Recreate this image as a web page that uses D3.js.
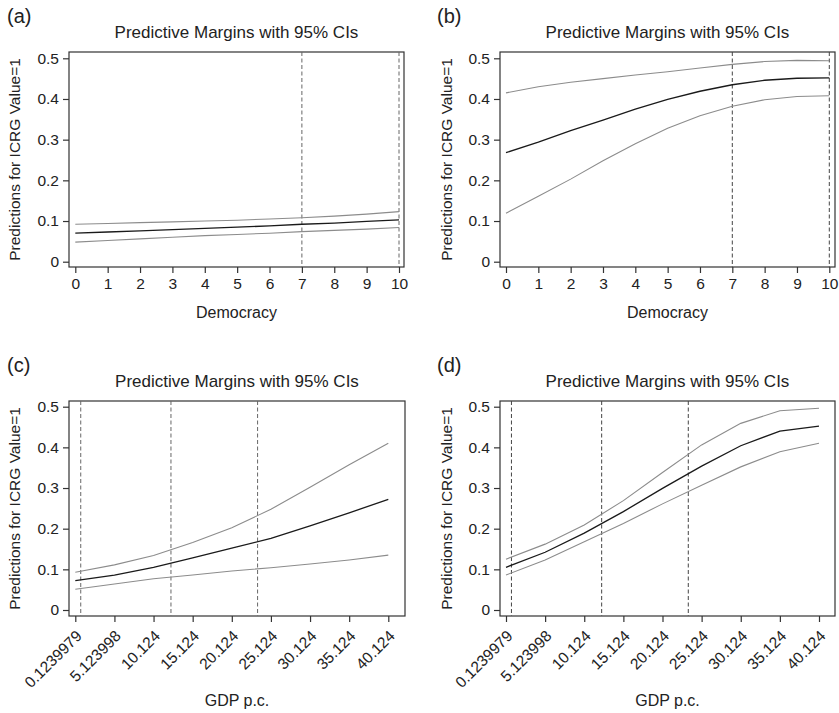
<!DOCTYPE html>
<html lang="en">
<meta charset="utf-8">
<head>
<script src="https://d3js.org/d3.v7.min.js"></script>
<style>
  body { margin: 0; background: #fff; }
  svg text { font-family: "Liberation Sans", Arial, Helvetica, sans-serif; fill: #222; }
</style>
</head>
<body>
<svg id="chart" width="839" height="713"></svg>
<script>
// Democracy panels (a, b)
var demX = [0, 1, 2, 3, 4, 5, 6, 7, 8, 9, 10];
var demTicks = ["0", "1", "2", "3", "4", "5", "6", "7", "8", "9", "10"];
var demRefLines = [7, 10];

var aMean  = [0.070, 0.073, 0.076, 0.079, 0.082, 0.085, 0.088, 0.092, 0.095, 0.099, 0.103];
var aUpper = [0.092, 0.094, 0.096, 0.098, 0.100, 0.102, 0.105, 0.108, 0.112, 0.117, 0.123];
var aLower = [0.048, 0.052, 0.056, 0.060, 0.064, 0.067, 0.070, 0.074, 0.077, 0.080, 0.084];

var bMean  = [0.268, 0.294, 0.322, 0.348, 0.375, 0.399, 0.419, 0.435, 0.446, 0.451, 0.452];
var bUpper = [0.415, 0.430, 0.441, 0.450, 0.459, 0.467, 0.476, 0.485, 0.492, 0.495, 0.494];
var bLower = [0.119, 0.161, 0.203, 0.248, 0.290, 0.328, 0.359, 0.382, 0.398, 0.406, 0.408];

// GDP panels (c, d)
var gdpX = [0.1239979, 5.123998, 10.124, 15.124, 20.124, 25.124, 30.124, 35.124, 40.124];
var gdpTicks = ["0.1239979", "5.123998", "10.124", "15.124", "20.124", "25.124", "30.124", "35.124", "40.124"];
var gdpRefLines = [0.82, 12.35, 23.42];

var cMean  = [0.072, 0.086, 0.105, 0.128, 0.152, 0.176, 0.207, 0.239, 0.272];
var cUpper = [0.093, 0.111, 0.134, 0.166, 0.202, 0.248, 0.302, 0.357, 0.410];
var cLower = [0.051, 0.064, 0.077, 0.086, 0.096, 0.104, 0.113, 0.123, 0.135];

var dMean  = [0.105, 0.142, 0.189, 0.242, 0.299, 0.354, 0.404, 0.440, 0.452];
var dUpper = [0.125, 0.162, 0.209, 0.269, 0.338, 0.406, 0.459, 0.490, 0.496];
var dLower = [0.086, 0.123, 0.168, 0.213, 0.261, 0.307, 0.352, 0.389, 0.410];

var yTicks = [0, 0.1, 0.2, 0.3, 0.4, 0.5];

var svg = d3.select("#chart");

function drawPanel(p) {
  var g = svg.append("g");
  var x = d3.scaleLinear().domain(p.xDomain).range(p.xRange);
  var y = d3.scaleLinear().domain([0, 0.5]).range(p.yRange);

  // frame
  g.append("rect")
    .attr("x", p.left).attr("y", p.top)
    .attr("width", p.right - p.left).attr("height", p.bottom - p.top)
    .attr("fill", "none").attr("stroke", "#333").attr("stroke-width", 1.2);

  // y axis
  var yAxis = g.append("g")
    .attr("transform", "translate(" + p.left + ",0)")
    .call(d3.axisLeft(y).tickValues(yTicks).tickFormat(function(d) { return d === 0 ? "0" : d3.format(".1f")(d); })
      .tickSize(6).tickPadding(4));
  yAxis.select(".domain").remove();
  yAxis.selectAll("line").attr("stroke", "#333").attr("stroke-width", 1.2);
  yAxis.selectAll("text").style("font-size", "15.5px").attr("fill", "#222");

  // x axis
  var xAxis = g.append("g")
    .attr("transform", "translate(0," + p.bottom + ")")
    .call(d3.axisBottom(x).tickValues(p.xVals).tickFormat(function(d, i) { return p.xLabels[i]; })
      .tickSize(6).tickPadding(5));
  xAxis.select(".domain").remove();
  xAxis.selectAll("line").attr("stroke", "#333").attr("stroke-width", 1.2);
  var xt = xAxis.selectAll("text").attr("fill", "#222");
  if (p.rotate) {
    xt.style("font-size", "15.5px")
      .attr("text-anchor", "end")
      .attr("dy", null)
      .attr("transform", "translate(7,21) rotate(-45)")
      .attr("y", 0).attr("x", 0);
  } else {
    xt.style("font-size", "15.5px");
  }

  // dashed reference lines
  g.selectAll(".ref")
    .data(p.refs)
    .enter()
    .append("line")
      .attr("x1", function(d) { return x(d); })
      .attr("x2", function(d) { return x(d); })
      .attr("y1", p.top).attr("y2", p.bottom)
      .attr("stroke", p.refColor)
      .attr("stroke-width", 1)
      .attr("stroke-dasharray", "4,2.5");

  // lines
  var line = d3.line()
    .x(function(d) { return x(d[0]); })
    .y(function(d) { return y(d[1]); });

  [[p.upper, "#8c8c8c", 1.1], [p.lower, "#8c8c8c", 1.1], [p.mean, "#1a1a1a", 1.3]].forEach(function(s) {
    g.append("path")
      .datum(p.xVals.map(function(v, i) { return [v, s[0][i]]; }))
      .attr("d", line)
      .attr("fill", "none")
      .attr("stroke", s[1])
      .attr("stroke-width", s[2]);
  });

  // texts
  g.append("text")
    .attr("x", p.labelX).attr("y", p.top - 29)
    .style("font-size", "20px")
    .text(p.label);

  g.append("text")
    .attr("x", (p.left + p.right) / 2).attr("y", p.top - 14)
    .attr("text-anchor", "middle")
    .style("font-size", "17px")
    .text("Predictive Margins with 95% CIs");

  g.append("text")
    .attr("transform", "translate(" + p.yTitleX + "," + ((p.top + p.bottom) / 2) + ") rotate(-90)")
    .attr("text-anchor", "middle")
    .style("font-size", "15.5px")
    .text("Predictions for ICRG Value=1");

  g.append("text")
    .attr("x", (p.left + p.right) / 2).attr("y", p.xTitleY)
    .attr("text-anchor", "middle")
    .style("font-size", "16px")
    .text(p.xTitle);
}

drawPanel({
  label: "(a)", labelX: 7,
  left: 69, right: 404, top: 52, bottom: 267,
  xDomain: [0, 10], xRange: [75.3, 399], yRange: [261.7, 58.3],
  xVals: demX, xLabels: demTicks, refs: demRefLines, refColor: "#666",
  mean: aMean, upper: aUpper, lower: aLower,
  yTitleX: 20, xTitle: "Democracy", xTitleY: 318, rotate: false
});

drawPanel({
  label: "(b)", labelX: 437,
  left: 500, right: 835, top: 52, bottom: 267,
  xDomain: [0, 10], xRange: [506, 829.3], yRange: [261.7, 58.3],
  xVals: demX, xLabels: demTicks, refs: demRefLines, refColor: "#444",
  mean: bMean, upper: bUpper, lower: bLower,
  yTitleX: 452, xTitle: "Democracy", xTitleY: 318, rotate: false
});

drawPanel({
  label: "(c)", labelX: 7,
  left: 69, right: 405, top: 401, bottom: 616,
  xDomain: [0.1239979, 40.124], xRange: [75.3, 388.3], yRange: [610, 406.7],
  xVals: gdpX, xLabels: gdpTicks, refs: gdpRefLines, refColor: "#666",
  mean: cMean, upper: cUpper, lower: cLower,
  yTitleX: 20, xTitle: "GDP p.c.", xTitleY: 706, rotate: true
});

drawPanel({
  label: "(d)", labelX: 437,
  left: 500, right: 835, top: 401, bottom: 616,
  xDomain: [0.1239979, 40.124], xRange: [506, 819], yRange: [610, 406.7],
  xVals: gdpX, xLabels: gdpTicks, refs: gdpRefLines, refColor: "#444",
  mean: dMean, upper: dUpper, lower: dLower,
  yTitleX: 452, xTitle: "GDP p.c.", xTitleY: 706, rotate: true
});
</script>
</body>
</html>
